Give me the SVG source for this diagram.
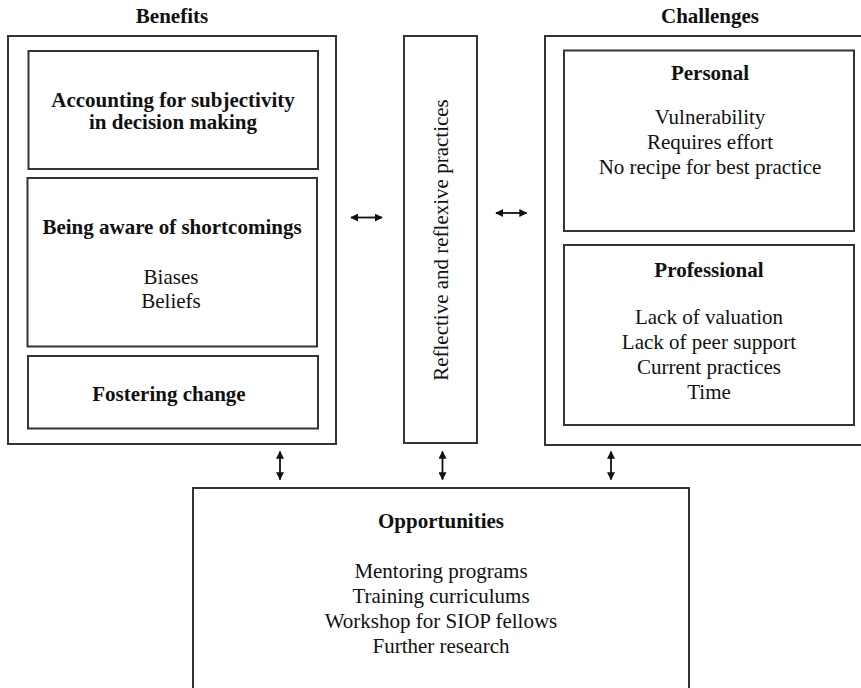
<svg xmlns="http://www.w3.org/2000/svg" width="861" height="688" viewBox="0 0 861 688">
<style>
  .box{fill:#fff;stroke:#333;stroke-width:2}
  text{font-family:"Liberation Serif","Times New Roman",serif;font-size:21px;fill:#111;text-anchor:middle}
  .b{font-weight:bold}
  .conn{stroke:#111;stroke-width:1.8;fill:none;marker-start:url(#ah);marker-end:url(#ah)}
</style>
<defs>
  <marker id="ah" viewBox="0 0 10 10" refX="9" refY="5" markerWidth="8" markerHeight="8" markerUnits="userSpaceOnUse" orient="auto-start-reverse">
    <path d="M0,0 L10,5 L0,10 Z" fill="#111"/>
  </marker>
</defs>
<rect width="861" height="688" fill="#fff"/>

<g id="benefits">
  <text class="b" x="172" y="23">Benefits</text>
  <rect class="box" x="8" y="36" width="328" height="408"/>
  <g id="accounting">
    <rect class="box" x="28.5" y="51" width="289.5" height="118"/>
    <text class="b" x="173" y="106.5">Accounting for subjectivity</text>
    <text class="b" x="173" y="128.5">in decision making</text>
  </g>
  <g id="aware">
    <rect class="box" x="27.5" y="178" width="289.5" height="168.5"/>
    <text class="b" x="172" y="233.5">Being aware of shortcomings</text>
    <text x="171" y="283.5">Biases</text>
    <text x="171" y="307.5">Beliefs</text>
  </g>
  <g id="fostering">
    <rect class="box" x="28" y="356" width="290" height="72.5"/>
    <text class="b" x="169" y="400.5">Fostering change</text>
  </g>
</g>

<g id="practices">
  <rect class="box" x="404" y="36" width="73" height="407"/>
  <text transform="translate(448,240) rotate(-90)" x="0" y="0">Reflective and reflexive practices</text>
</g>

<g id="challenges">
  <text class="b" x="710" y="23">Challenges</text>
  <rect class="box" x="545" y="36" width="330" height="409"/>
  <g id="personal">
    <rect class="box" x="564" y="50.5" width="290" height="180.5"/>
    <text class="b" x="710" y="79.5">Personal</text>
    <text x="710" y="123.5">Vulnerability</text>
    <text x="710" y="148.5">Requires effort</text>
    <text x="710" y="173.5">No recipe for best practice</text>
  </g>
  <g id="professional">
    <rect class="box" x="564" y="245" width="290" height="180"/>
    <text class="b" x="709" y="276.5">Professional</text>
    <text x="709" y="323.5">Lack of valuation</text>
    <text x="709" y="348.5">Lack of peer support</text>
    <text x="709" y="373.5">Current practices</text>
    <text x="709" y="398.5">Time</text>
  </g>
</g>

<g id="opportunities">
  <rect class="box" x="193" y="488" width="496" height="220"/>
  <text class="b" x="441" y="527.5">Opportunities</text>
  <text x="441" y="577.5">Mentoring programs</text>
  <text x="441" y="602.5">Training curriculums</text>
  <text x="441" y="627.5">Workshop for SIOP fellows</text>
  <text x="441" y="652.5">Further research</text>
</g>

<g id="connectors">
  <line class="conn" x1="351" y1="217.5" x2="382" y2="217.5"/>
  <line class="conn" x1="496" y1="213" x2="526.5" y2="213"/>
  <line class="conn" x1="280" y1="451.5" x2="280" y2="479.5"/>
  <line class="conn" x1="442.5" y1="451.5" x2="442.5" y2="479.5"/>
  <line class="conn" x1="611" y1="451.5" x2="611" y2="479.5"/>
</g>
</svg>
